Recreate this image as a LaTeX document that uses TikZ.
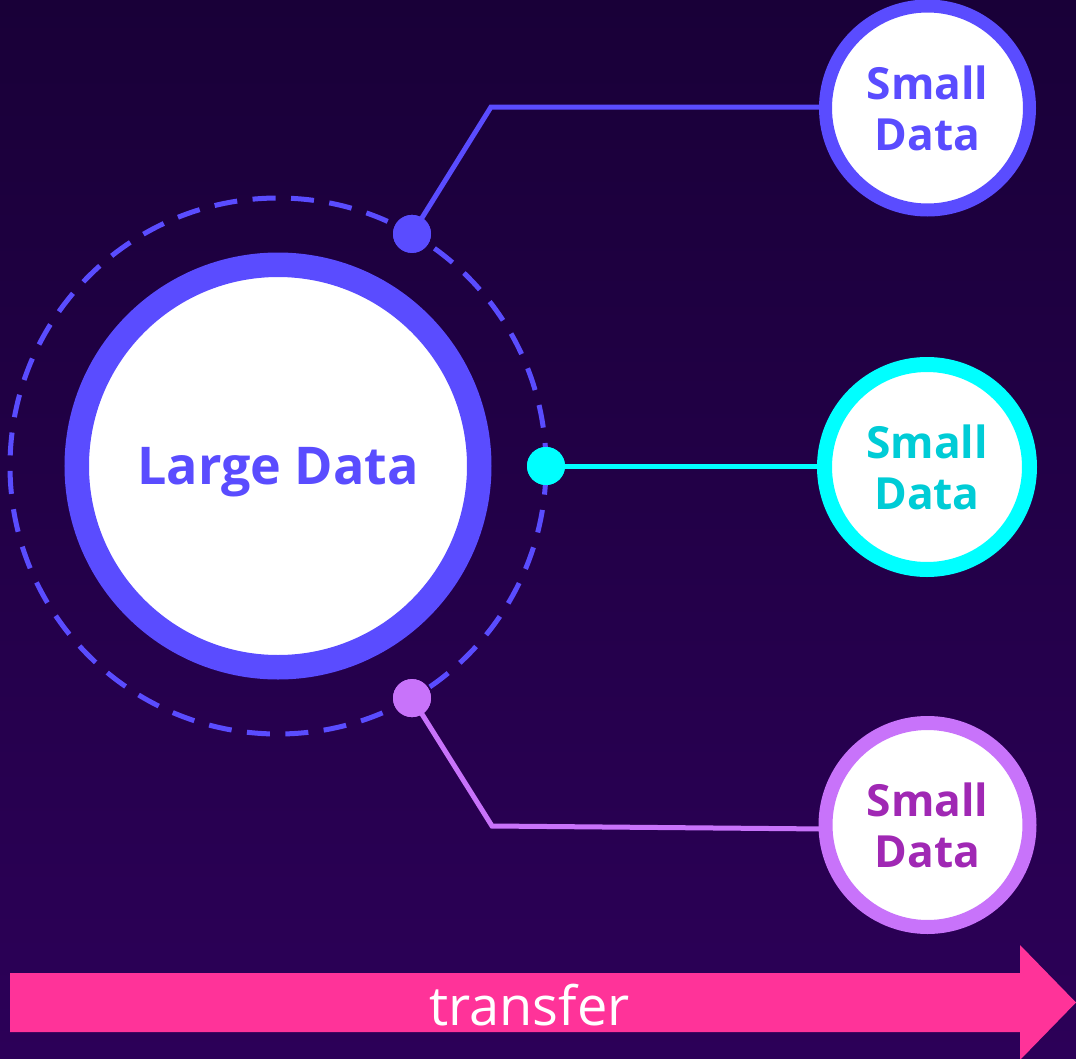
\documentclass[tikz,border=0pt]{standalone}
\usepackage{fontspec}
\setmainfont{Open Sans}
\usepackage{tikz}
\usetikzlibrary{calc}
\definecolor{bgtop}{RGB}{25,0,56}
\definecolor{bgbot}{RGB}{44,0,88}
\definecolor{indigo}{RGB}{90,76,255}
\definecolor{aqua}{RGB}{0,255,255}
\definecolor{aquatext}{RGB}{0,204,214}
\definecolor{lilac}{RGB}{200,115,250}
\definecolor{lilactext}{RGB}{160,40,180}
\definecolor{hotpink}{RGB}{255,51,153}
\tikzset{
  ring/.style={circle, draw, fill=white, inner sep=0pt, align=center},
  smallring/.style={ring, minimum size=2.04cm, font=\fontsize{12.6}{14.5}\selectfont\bfseries},
  dot/.style={circle, inner sep=0pt, minimum size=0.38cm},
  link/.style={line width=0.05cm},
}

\begin{document}
\begin{tikzpicture}
    \fill[top color=bgtop, bottom color=bgbot] (0,0) rectangle (10.76,10.58);
    \useasboundingbox (0,0) rectangle (10.76,10.58);

    \coordinate (c) at (2.78,5.92);
    \draw[indigo, line width=0.05cm, dash pattern=on 0.23cm off 0.155cm] (c) circle (2.68);

    \node[dot, fill=indigo] (d1) at ($(c)+(60:2.68)$) {};
    \node[dot, fill=aqua] (d2) at ($(c)+(0:2.68)$) {};
    \node[dot, fill=lilac] (d3) at ($(c)+(-60:2.68)$) {};

    \coordinate (b1) at (4.91,9.51);
    \coordinate (b3) at (4.92,2.32);
    \coordinate (e3) at (8.25,2.29);

    \draw[link, indigo] (d1.center) -- (b1) -- (8.3,9.51);
    \draw[link, aqua] (d2.center) -- (8.3,5.92);
    \draw[link, lilac] (d3.center) -- (b3) -- (e3);

    \node[dot, fill=indigo] at (d1) {};
    \node[dot, fill=aqua] at (d2) {};
    \node[dot, fill=lilac] at (d3) {};

    \node[ring, draw=indigo, line width=0.245cm, minimum size=4.025cm, text=indigo, text depth=0pt,
      font=\fontsize{14.8}{18}\selectfont\bfseries] (big) at (c) {Large Data};

    \node[smallring, draw=indigo, line width=0.13cm, text=indigo] (s1) at (9.275,9.50) {Small\\Data};
    \node[smallring, draw=aqua, line width=0.15cm, minimum size=2.05cm, text=aquatext] (s2) at (9.27,5.91) {Small\\Data};
    \node[smallring, draw=lilac, line width=0.14cm, text=lilactext] (s3) at (9.275,2.33) {Small\\Data};

    % transfer arrow
    \fill[hotpink] (0.10,0.26) -- (10.20,0.26) -- (10.20,-0.02) -- (10.76,0.555)
      -- (10.20,1.13) -- (10.20,0.85) -- (0.10,0.85) -- cycle;
    \node[white, anchor=base, inner sep=0pt, font=\fontsize{15.4}{18}\selectfont] (tr) at (5.295,0.33) {transfer};
\end{tikzpicture}
\end{document}
